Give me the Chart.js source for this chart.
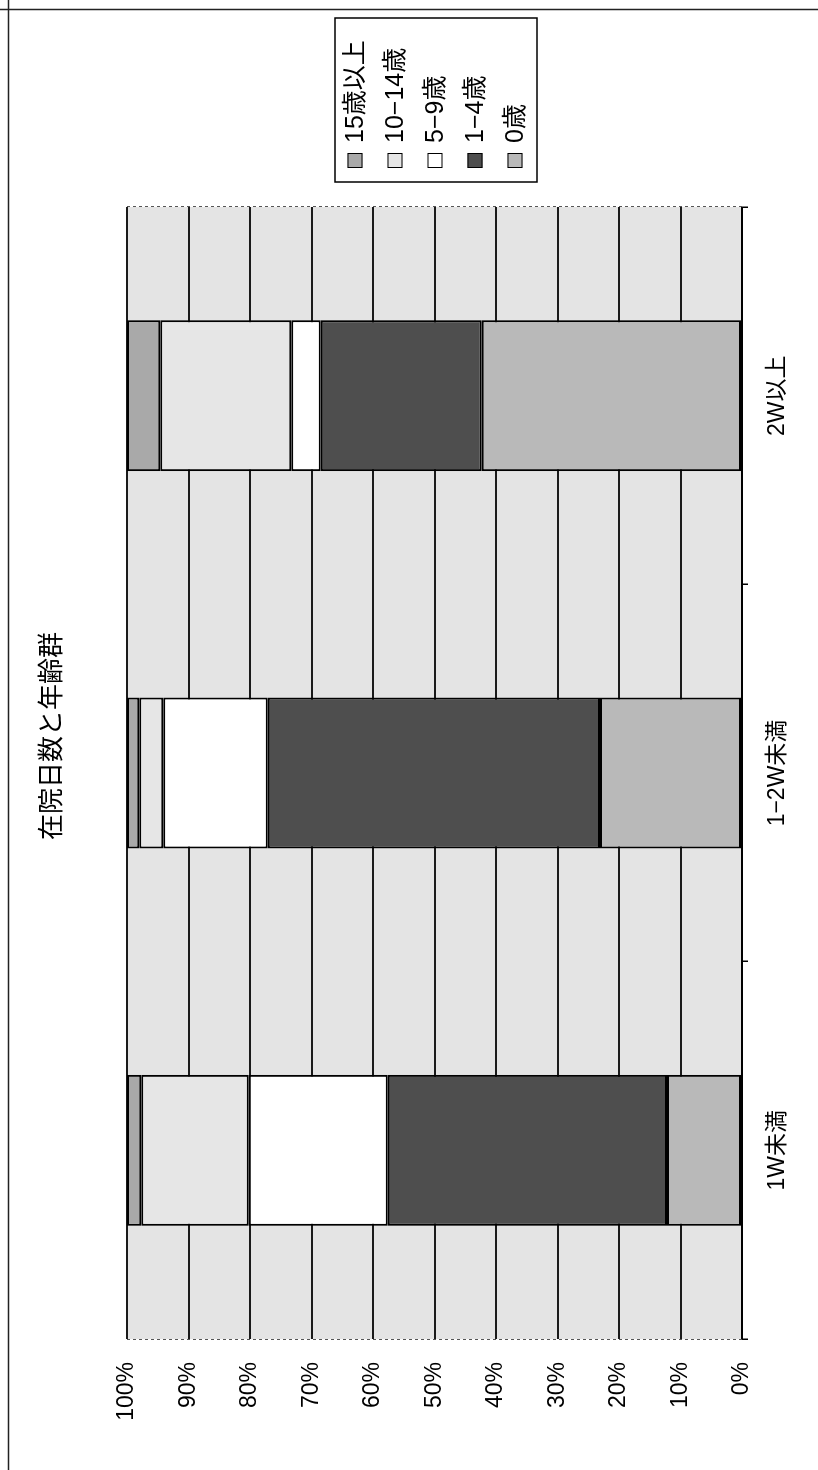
<!DOCTYPE html>
<html lang="ja">
<head>
<meta charset="utf-8">
<title>在院日数と年齢群</title>
<script src="https://cdn.jsdelivr.net/npm/chart.js@4.4.1/dist/chart.umd.min.js"></script>
<style>
  html, body { margin: 0; padding: 0; background: #fff; overflow: hidden; }
  /* the chart is laid out landscape and turned a quarter turn to sit on a portrait page */
  #page {
    position: absolute; left: 0; top: 0;
    width: 1470px; height: 818px;
    transform-origin: 0 0;
    transform: translate(0px, 1470px) rotate(-90deg);
  }
  canvas { display: block; }
</style>
</head>
<body>
<div id="page"><canvas id="chart" width="1470" height="818"></canvas></div>
<script>
const chartTitle = '在院日数と年齢群';

// length of stay groups
const categories = ['1W未満', '1−2W未満', '2W以上'];

// share of each age group within a stay group (%)
const age0      = [12.2, 23.1, 42.3];
const age1to4   = [45.4, 54.0, 26.2];
const age5to9   = [22.6, 17.0,  4.8];
const age10to14 = [17.5,  3.9, 21.3];
const age15plus = [ 2.3,  2.0,  5.4];

const seriesNames = ['0歳', '1−4歳', '5−9歳', '10−14歳', '15歳以上'];
const valueTicks = [0, 10, 20, 30, 40, 50, 60, 70, 80, 90, 100];

// styling
const seriesFills = ['#b9b9b9', '#4e4e4e', '#ffffff', '#e6e6e6', '#a9a9a9'];
const plotFill = '#e4e4e4';
const latinCjk = "'Liberation Sans', 'Noto Sans CJK JP', sans-serif";
const cjk = "'Noto Sans CJK JP', sans-serif";

Chart.defaults.color = '#000';
Chart.defaults.font.family = latinCjk;

const seriesValues = [age0, age1to4, age5to9, age10to14, age15plus];

const datasets = seriesValues.map((vals, i) => ({
  label: seriesNames[i],
  data: vals,
  backgroundColor: seriesFills[i],
  borderColor: '#000',
  borderWidth: 2,
  borderSkipped: false,
  barPercentage: 0.4,
  categoryPercentage: 1.0
}));

// grey plot-area fill behind the grid
const plotBackground = {
  id: 'plotBackground',
  beforeDraw(chart) {
    const { ctx, chartArea: a } = chart;
    ctx.save();
    ctx.fillStyle = plotFill;
    ctx.fillRect(a.left, a.top, a.right - a.left, a.bottom - a.top);
    ctx.restore();
  }
};

// plot edges, page frame, title and boxed legend
const frameAndLegend = {
  id: 'frameAndLegend',
  afterDraw(chart) {
    const { ctx, chartArea: a } = chart;
    ctx.save();
    // dotted side edges of the plot
    ctx.strokeStyle = '#555';
    ctx.lineWidth = 1;
    ctx.setLineDash([3, 3]);
    ctx.beginPath();
    ctx.moveTo(a.right + 0.5, a.top);
    ctx.lineTo(a.right + 0.5, a.bottom);
    ctx.moveTo(a.left - 0.5, a.top);
    ctx.lineTo(a.left - 0.5, a.bottom);
    ctx.stroke();
    ctx.setLineDash([]);

    // page frame
    ctx.strokeStyle = '#222';
    ctx.lineWidth = 1.5;
    ctx.beginPath();
    ctx.moveTo(0, 8.5); ctx.lineTo(chart.width, 8.5);
    ctx.moveTo(1460.5, 0); ctx.lineTo(1460.5, chart.height);
    ctx.stroke();

    // title, centred on the whole frame
    ctx.fillStyle = '#000';
    ctx.font = "26px " + cjk;
    ctx.textAlign = 'center';
    ctx.textBaseline = 'middle';
    ctx.fillText(chartTitle, 734, 50);

    // legend box, top series first
    const boxL = 1288, boxT = 335, boxR = 1452, boxB = 537;
    ctx.lineWidth = 1.5;
    ctx.strokeStyle = '#000';
    ctx.fillStyle = '#fff';
    ctx.fillRect(boxL, boxT, boxR - boxL, boxB - boxT);
    ctx.strokeRect(boxL, boxT, boxR - boxL, boxB - boxT);

    const ds = chart.data.datasets;
    ctx.font = "25px " + latinCjk;
    ctx.textBaseline = 'middle';
    ctx.textAlign = 'left';
    for (let k = 0; k < ds.length; k++) {
      const d = ds[ds.length - 1 - k];
      const cy = 355 + k * 40;
      ctx.fillStyle = d.backgroundColor;
      ctx.fillRect(1302, cy - 7.5, 15, 15);
      ctx.lineWidth = 1;
      ctx.strokeStyle = '#000';
      ctx.strokeRect(1302.5, cy - 7, 14, 14);
      ctx.fillStyle = '#000';
      ctx.fillText(d.label, 1327, cy + 1);
    }
    ctx.restore();
  }
};

new Chart(document.getElementById('chart'), {
  type: 'bar',
  data: { labels: categories, datasets },
  options: {
    responsive: false,
    animation: false,
    devicePixelRatio: 1,
    layout: { padding: { top: 127, right: 207, bottom: 0, left: 0 } },
    plugins: {
      legend: { display: false },
      tooltip: { enabled: false },
      title: { display: false }
    },
    scales: {
      x: {
        stacked: true,
        grid: {
          offset: true,
          drawOnChartArea: false,
          drawTicks: true,
          tickLength: 6,
          color: '#000',
          lineWidth: 1.5
        },
        border: { display: true, color: '#000', width: 2 },
        ticks: { padding: 16, font: { size: 23 }, color: '#000' },
        afterFit(scale) { scale.height = 76; }
      },
      y: {
        stacked: true,
        min: 0,
        max: 100,
        afterBuildTicks(scale) { scale.ticks = valueTicks.map(v => ({ value: v })); },
        grid: { color: '#1a1a1a', lineWidth: 2, drawTicks: false },
        border: { display: false },
        ticks: {
          padding: 23,
          font: { size: 23, family: "'Liberation Sans', sans-serif" },
          color: '#000',
          callback: v => v + '%'
        },
        afterFit(scale) { scale.width = 131; }
      }
    }
  },
  plugins: [plotBackground, frameAndLegend]
});
</script>
</body>
</html>
